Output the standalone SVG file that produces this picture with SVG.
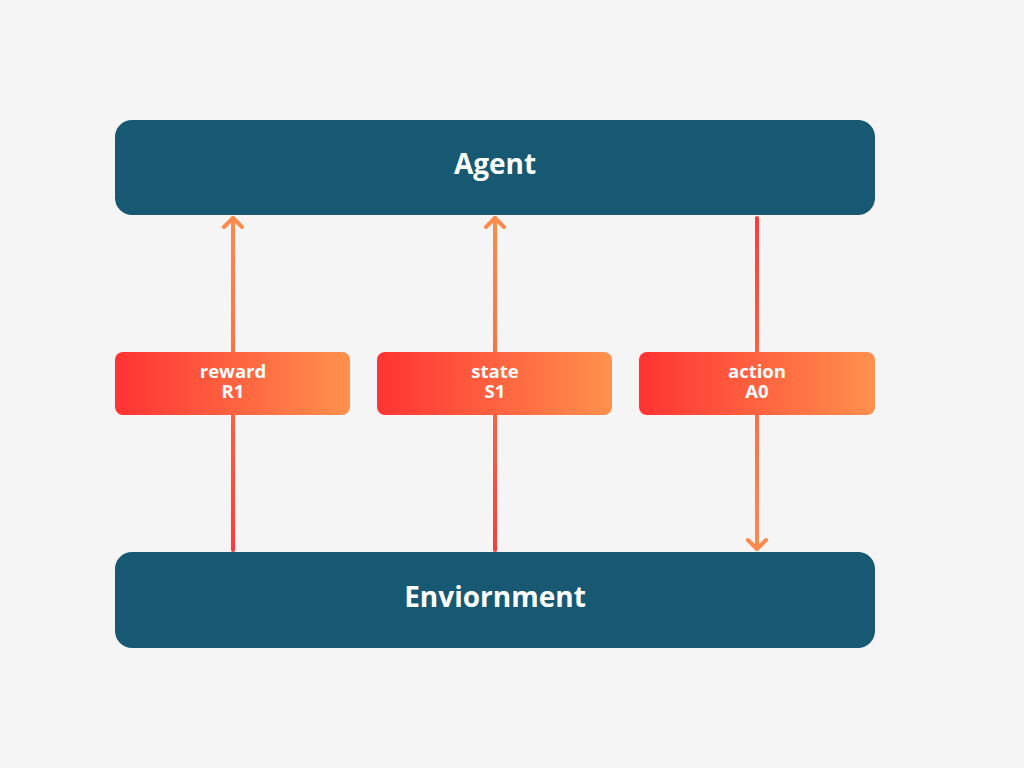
<svg xmlns="http://www.w3.org/2000/svg" width="1024" height="768" viewBox="0 0 1024 768">
<defs>
<style>
.main{fill:#175873}
.mt{fill:#fff;font-family:"Open Sans","Noto Sans",sans-serif;font-weight:700;font-size:28px;text-anchor:middle;dominant-baseline:central}
.lt{fill:#fff;font-family:"Open Sans","Noto Sans",sans-serif;font-weight:700;font-size:18.5px;text-anchor:middle}
.conn{stroke-width:4;fill:none;stroke-linecap:round}
.head{stroke-width:4;fill:none;stroke-linecap:round;stroke-linejoin:round}
</style>
<linearGradient id="lbl" x1="0" y1="0" x2="1" y2="0">
<stop offset="0" stop-color="#ff3333"/>
<stop offset="1" stop-color="#ff914d"/>
</linearGradient>
<linearGradient id="up" gradientUnits="userSpaceOnUse" x1="0" y1="550" x2="0" y2="216">
<stop offset="0" stop-color="#ff3a3a"/>
<stop offset="0.5" stop-color="#ff6a42"/>
<stop offset="1" stop-color="#ff8a4c"/>
</linearGradient>
<linearGradient id="down" gradientUnits="userSpaceOnUse" x1="0" y1="216" x2="0" y2="550">
<stop offset="0" stop-color="#ff3a3a"/>
<stop offset="0.5" stop-color="#ff6a42"/>
<stop offset="1" stop-color="#ff8a4c"/>
</linearGradient>
</defs>
<rect width="1024" height="768" fill="#f5f5f5"/>
<g id="connectors">
<line class="conn" x1="233" y1="550" x2="233" y2="218" stroke="url(#up)"/>
<polyline class="head" points="224,227 233,218 242,227" stroke="#ff8a4c"/>
<line class="conn" x1="495" y1="550" x2="495" y2="218" stroke="url(#up)"/>
<polyline class="head" points="486,227 495,218 504,227" stroke="#ff8a4c"/>
<line class="conn" x1="757" y1="218" x2="757" y2="549" stroke="url(#down)"/>
<polyline class="head" points="748,540 757,549 766,540" stroke="#ff8a4c"/>
</g>
<g id="agent">
<rect class="main" x="115" y="120" width="760" height="95" rx="17"/>
<text class="mt" x="495" y="163">Agent</text>
</g>
<g id="environment">
<rect class="main" x="115" y="552" width="760" height="96" rx="17"/>
<text class="mt" x="495" y="596">Enviornment</text>
</g>
<g id="reward">
<rect x="115" y="352" width="235" height="63" rx="8" fill="url(#lbl)"/>
<text class="lt" x="233" y="378">reward<tspan x="233" y="398">R1</tspan></text>
</g>
<g id="state">
<rect x="377" y="352" width="235" height="63" rx="8" fill="url(#lbl)"/>
<text class="lt" x="495" y="378">state<tspan x="495" y="398">S1</tspan></text>
</g>
<g id="action">
<rect x="639" y="352" width="236" height="63" rx="8" fill="url(#lbl)"/>
<text class="lt" x="757" y="378">action<tspan x="757" y="398">A0</tspan></text>
</g>
</svg>
